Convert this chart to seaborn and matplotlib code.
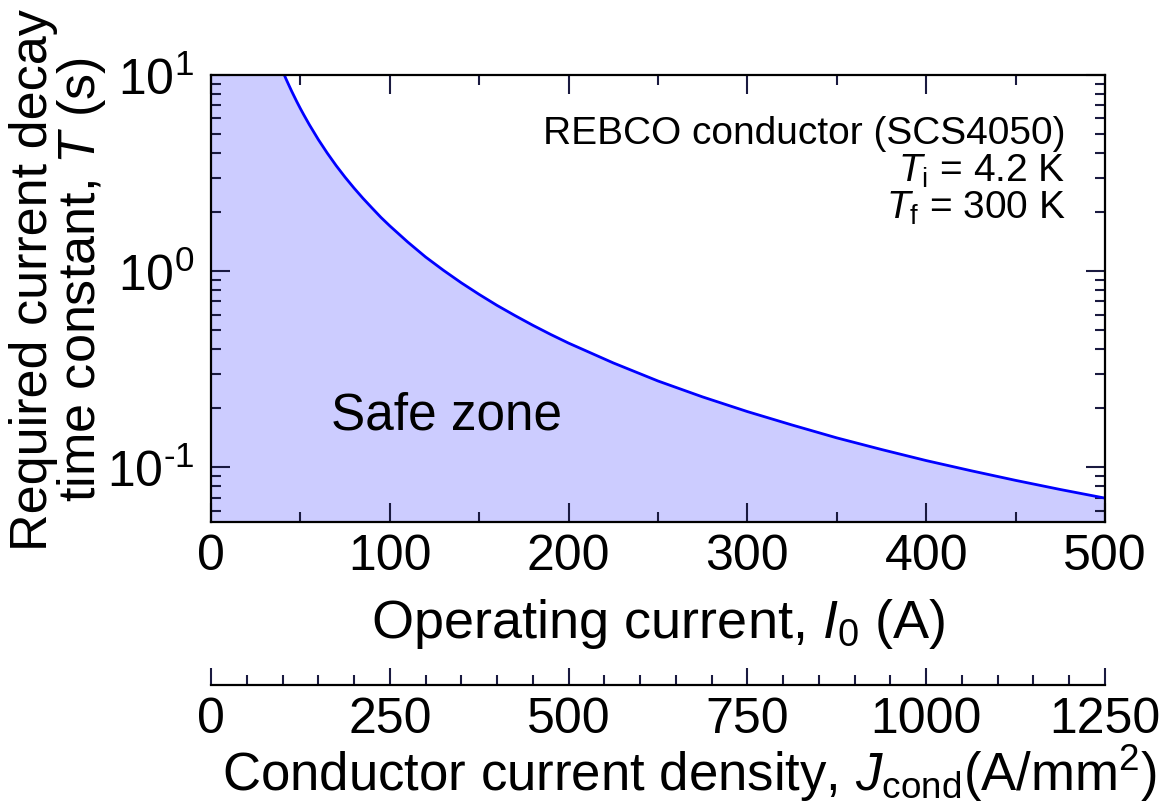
import matplotlib
matplotlib.use("Agg")
import matplotlib.pyplot as plt
import seaborn as sns
import pandas as pd
from matplotlib.ticker import LogLocator, MultipleLocator, NullFormatter, FuncFormatter
import numpy as np

# Operating current (A) and required current-decay time constant (s)
current_A = [41, 42, 43, 45, 46, 48, 50, 52, 55, 60, 65, 70, 75, 80, 85, 90,
             95, 100, 110, 120, 130, 140, 150, 160, 170, 180, 190, 200, 225,
             250, 275, 300, 325, 350, 375, 400, 425, 450, 475, 500]
tau_s = [10.0, 9.53, 9.10, 8.31, 7.96, 7.31, 6.74, 6.24, 5.58, 4.69, 4.00,
         3.45, 3.01, 2.65, 2.35, 2.10, 1.88, 1.70, 1.407, 1.18, 1.009, 0.871,
         0.760, 0.668, 0.593, 0.529, 0.475, 0.429, 0.340, 0.275, 0.228,
         0.192, 0.164, 0.141, 0.123, 0.108, 0.0959, 0.0856, 0.0769, 0.0695]

x_limits = (0, 500)
y_limits = (0.0525, 10)
jcond_limits = (0, 1250)

x_major_ticks = 100
x_minor_ticks = 50
j_major_ticks = 250
j_minor_ticks = 50

sns.set_theme(style="ticks")
plt.rcParams["font.family"] = ["Liberation Sans", "DejaVu Sans"]
plt.rcParams["text.color"] = "black"
plt.rcParams["axes.labelcolor"] = "black"
plt.rcParams["xtick.color"] = "black"
plt.rcParams["ytick.color"] = "black"
plt.rcParams["mathtext.fontset"] = "custom"
plt.rcParams["mathtext.rm"] = "Liberation Sans"
plt.rcParams["mathtext.it"] = "Liberation Sans:italic"
plt.rcParams["mathtext.bf"] = "Liberation Sans:bold"

TICK = 36
tick_color = "#1a1a40"

fig = plt.figure(figsize=(11.72, 8.12), dpi=100)
ax = fig.add_axes([211 / 1172, 1 - 523 / 812, 894 / 1172, 447 / 812])
ax.set_axisbelow(False)

df = pd.DataFrame({"current": current_A, "tau": tau_s})

# Shaded safe region under the curve (clamped to the top of the axis at low current)
fill_x = [x_limits[0]] + current_A
fill_top = [y_limits[1]] + tau_s
ax.fill_between(fill_x, fill_top, y_limits[0], color="#ccccff", lw=0, zorder=1)
sns.lineplot(data=df, x="current", y="tau", ax=ax, color="#0000ff", lw=2.0,
             zorder=3)

ax.set_yscale("log")
ax.set_xlim(*x_limits)
ax.set_ylim(*y_limits)
ax.xaxis.set_major_locator(MultipleLocator(x_major_ticks))
ax.xaxis.set_minor_locator(MultipleLocator(x_minor_ticks))
ax.yaxis.set_major_locator(LogLocator(base=10))
ax.yaxis.set_minor_locator(LogLocator(base=10, subs=range(2, 10)))
ax.yaxis.set_minor_formatter(NullFormatter())


def decade_label(v, pos):
    e = int(round(np.log10(v)))
    return r"$\mathregular{10^{\text{%d}}}$" % e


ax.yaxis.set_major_formatter(FuncFormatter(decade_label))

ax.tick_params(which="both", direction="in", top=True, right=True,
               color=tick_color, labelsize=TICK, labelcolor="black", width=1.5)
ax.tick_params(which="major", length=14)
ax.tick_params(which="minor", length=7.5)
ax.tick_params(axis="x", which="major", pad=8)
ax.tick_params(axis="y", which="major", pad=12)
for s in ax.spines.values():
    s.set_linewidth(1.6)
    s.set_color("black")
    s.set_zorder(4)

ax.set_xlabel(r"Operating current, $\mathit{I}_\mathrm{0}$ (A)", fontsize=39)
ax.xaxis.set_label_coords(0.5, -0.165)
ax.xaxis.label.set_va("top")
ax.set_ylabel("Required current decay\ntime constant, $\\mathit{T}$ (s)",
              fontsize=37.5, linespacing=0.92)
ax.yaxis.label.set_va("center")
ax.yaxis.set_label_coords(-0.171, 0.544)

ax.text(0.956, 0.870, "REBCO conductor (SCS4050)", transform=ax.transAxes,
        ha="right", va="center", fontsize=28)
ax.text(0.956, 0.787, r"$\mathit{T}_\mathrm{i}$ = 4.2 K", transform=ax.transAxes,
        ha="right", va="center", fontsize=28)
ax.text(0.956, 0.703, r"$\mathit{T}_\mathrm{f}$ = 300 K", transform=ax.transAxes,
        ha="right", va="center", fontsize=28)
ax.text(0.263, 0.239, "Safe zone", transform=ax.transAxes, ha="center",
        va="center", fontsize=37)

# Secondary scale: conductor current density
ax2 = fig.add_axes([211 / 1172, 1 - 686 / 812, 894 / 1172, 0.05])
ax2.patch.set_visible(False)
for side in ("top", "left", "right"):
    ax2.spines[side].set_visible(False)
ax2.spines["bottom"].set_linewidth(1.6)
ax2.spines["bottom"].set_color("black")
ax2.set_yticks([])
ax2.set_xlim(*jcond_limits)
ax2.xaxis.set_major_locator(MultipleLocator(j_major_ticks))
ax2.xaxis.set_minor_locator(MultipleLocator(j_minor_ticks))
ax2.tick_params(axis="x", which="both", direction="in", color=tick_color,
                width=1.5, labelsize=TICK, labelcolor="black", pad=8)
ax2.tick_params(axis="x", which="major", length=12)
ax2.tick_params(axis="x", which="minor", length=7)
ax2.set_xlabel(r"Conductor current density, $\mathit{J}_\mathrm{cond}$(A/mm$^\mathrm{2}$)",
               fontsize=38)
ax2.xaxis.label.set_va("top")
ax2.xaxis.set_label_coords(0.535, -1.40)

fig.savefig("out.png", dpi=100)
